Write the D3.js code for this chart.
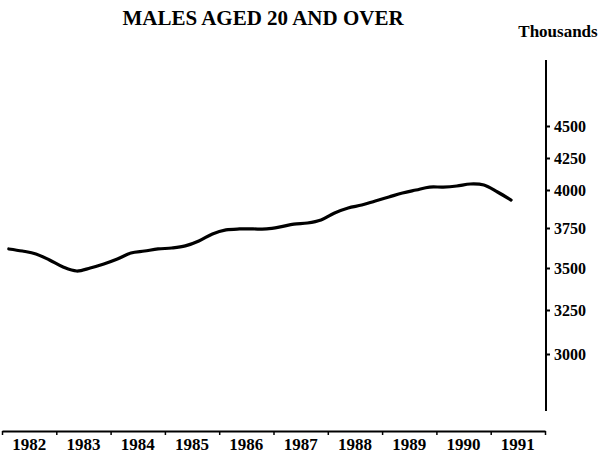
<!DOCTYPE html>
<html>
<head>
<meta charset="utf-8">
<script src="https://cdn.jsdelivr.net/npm/d3@7"></script>
<style>
  body { margin: 0; background: #fff; }
  svg { display: block; font-family: "Liberation Serif", "Times New Roman", serif; }
</style>
</head>
<body>
<svg id="chart"></svg>
<script>
// quarterly series, 1982 Q1 .. 1991 Q2 (thousands)
const years = [1982, 1983, 1984, 1985, 1986, 1987, 1988, 1989, 1990, 1991];
const yTicks = [3000, 3250, 3500, 3750, 4000, 4250, 4500];
const males = [
  3619, 3606, 3588, 3550,
  3506, 3482, 3500, 3525,
  3556, 3594, 3606, 3619,
  3625, 3638, 3669, 3713,
  3738, 3744, 3744, 3744,
  3757, 3776, 3783, 3803,
  3849, 3882, 3901, 3928,
  3954, 3980, 4000, 4023,
  4023, 4031, 4047, 4039,
  3987, 3934
];

const width = 607, height = 457;
const axisX = 546, axisTop = 60, axisBottom = 411, baseY = 431;

const svg = d3.select("#chart")
    .attr("width", width)
    .attr("height", height)
    .attr("viewBox", [0, 0, width, height]);

const x = d3.scaleLinear().domain([1982, 1992]).range([2, axisX - 1]);
// the printed scale is not evenly spaced, so map tick by tick
const y = d3.scaleLinear()
    .domain(yTicks)
    .range([354, 310, 268, 228, 190, 158, 126]);

// title + unit
svg.append("text")
    .attr("x", 263).attr("y", 25)
    .attr("text-anchor", "middle")
    .attr("font-weight", "bold")
    .attr("font-size", 21)
    .text("MALES AGED 20 AND OVER");

svg.append("text")
    .attr("x", 558).attr("y", 37)
    .attr("text-anchor", "middle")
    .attr("font-weight", "bold")
    .attr("font-size", 17)
    .text("Thousands");

// y axis on the right
svg.append("line")
    .attr("x1", axisX).attr("x2", axisX)
    .attr("y1", axisTop).attr("y2", axisBottom)
    .attr("stroke", "#000").attr("stroke-width", 2);

svg.append("g")
    .attr("transform", `translate(${axisX},0)`)
    .call(d3.axisRight(y).tickValues(yTicks).tickSize(4).tickPadding(4).tickFormat(d3.format("d")))
    .call(g => g.select(".domain").remove())
    .call(g => g.selectAll(".tick line").attr("stroke-width", 2))
    .call(g => g.selectAll(".tick text")
        .attr("font-family", "Liberation Serif")
        .attr("font-weight", "bold")
        .attr("font-size", 16)
        .attr("fill", "#000"));

// x axis along the bottom
svg.append("g")
    .attr("transform", `translate(0,${baseY})`)
    .call(d3.axisBottom(x).tickValues(years.concat([1992])).tickSize(4).tickSizeOuter(0).tickFormat(""))
    .call(g => g.select(".domain").attr("stroke-width", 2))
    .call(g => g.selectAll(".tick line").attr("stroke-width", 1.5));

svg.append("g")
  .selectAll("text")
  .data(years)
  .join("text")
    .attr("x", d => x(d + 0.5))
    .attr("y", baseY + 19)
    .attr("text-anchor", "middle")
    .attr("font-weight", "bold")
    .attr("font-size", 17)
    .text(d => d);

// the series
const line = d3.line()
    .curve(d3.curveCatmullRom)
    .x((d, i) => x(1982 + (i + 0.5) / 4))
    .y(d => y(d));

svg.append("path")
    .datum(males)
    .attr("fill", "none")
    .attr("stroke", "#000")
    .attr("stroke-width", 3.2)
    .attr("stroke-linecap", "round")
    .attr("stroke-linejoin", "round")
    .attr("d", line);
</script>
</body>
</html>
